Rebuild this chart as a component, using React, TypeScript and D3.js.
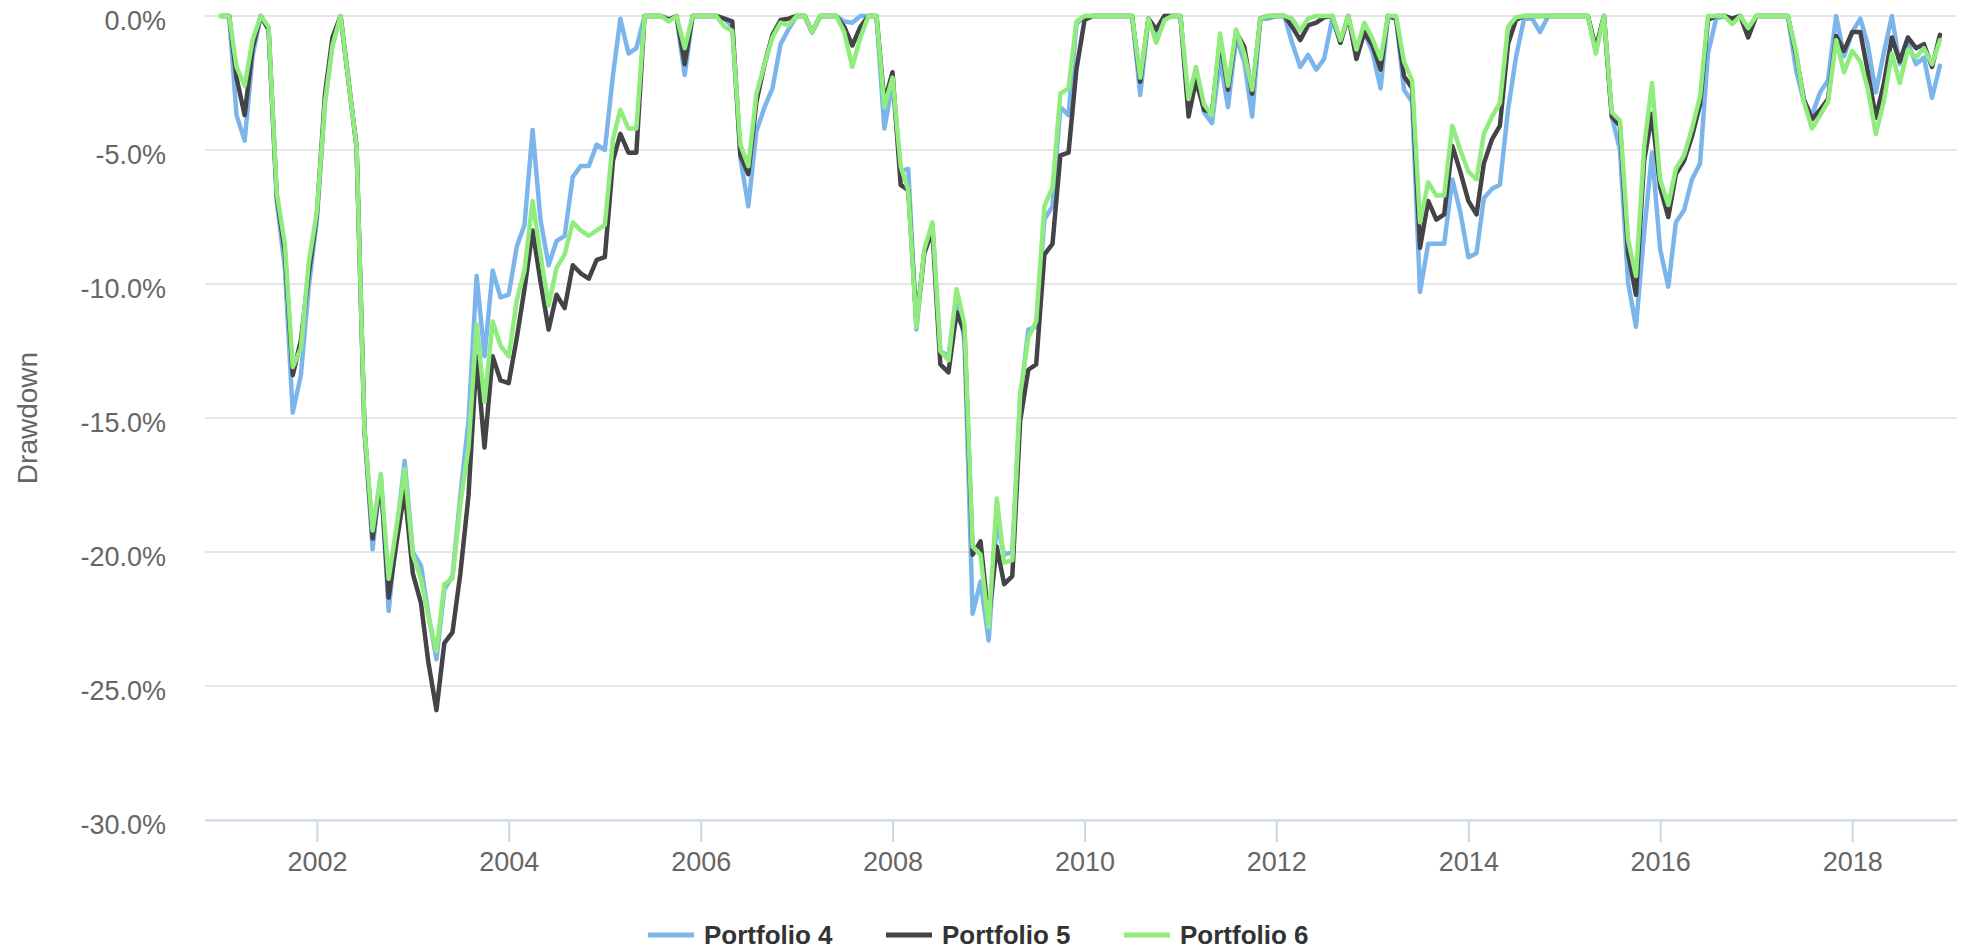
import React, { useRef, useEffect } from "react";
import * as d3 from "d3";

// monthly drawdowns (%) from Jan 2001 to Dec 2018, one row per year
const startYear = 2001;

const portfolio4 = [
  0, 0, -3.7, -4.65, -1.5, 0, -0.5, -6.9, -9.4, -14.8, -13.4, -10.1,
  -7.6, -3.2, -1.1, 0, -2.4, -4.9, -15.5, -19.9, -17.1, -22.2, -19.2, -16.6,
  -20.0, -20.5, -22.3, -24.0, -21.4, -20.9, -17.9, -15.1, -9.7, -12.7, -9.5, -10.5,
  -10.4, -8.6, -7.8, -4.25, -7.6, -9.3, -8.4, -8.2, -6.0, -5.6, -5.6, -4.8,
  -5.0, -2.2, -0.1, -1.4, -1.2, 0, 0, 0, -0.1, -0.05, -2.2, 0,
  0, 0, 0, -0.1, -0.4, -5.3, -7.1, -4.3, -3.4, -2.7, -1.05, -0.5,
  0, 0, -0.6, 0, 0, 0, -0.2, -0.25, 0, 0, 0, -4.2,
  -2.5, -5.8, -5.7, -11.7, -8.8, -7.8, -12.5, -12.7, -10.4, -12.1, -22.3, -21.1,
  -23.3, -18.9, -20.1, -20.0, -14.3, -11.7, -11.6, -7.6, -7.1, -3.4, -3.7, -0.3,
  0, 0, 0, 0, 0, 0, 0, -2.95, -0.1, -0.7, 0, 0,
  0, -3.4, -2.0, -3.6, -4.0, -1.6, -3.4, -0.8, -1.7, -3.75, -0.1, -0.1,
  0, 0, -1.0, -1.9, -1.45, -2.0, -1.6, -0.1, -1.0, 0, -1.6, -0.6,
  -1.35, -2.7, 0, -0.1, -2.75, -3.2, -10.3, -8.5, -8.5, -8.5, -6.1, -7.3,
  -9.0, -8.85, -6.8, -6.45, -6.3, -3.5, -1.55, -0.1, -0.1, -0.6, 0, 0,
  0, 0, 0, 0, -1.3, 0, -3.75, -5.0, -9.95, -11.6, -8.1, -5.1,
  -8.7, -10.1, -7.7, -7.25, -6.1, -5.5, -1.4, -0.1, 0, -0.1, 0, -0.5,
  0, 0, 0, 0, 0, -2.0, -3.2, -3.7, -2.85, -2.4, 0, -1.5,
  -0.6, -0.1, -1.05, -2.85, -1.4, 0, -1.8, -1.0, -1.8, -1.55, -3.05, -1.85,
];

const portfolio5 = [
  0, 0, -2.3, -3.7, -1.2, 0, -0.5, -6.7, -8.8, -13.4, -12.1, -9.6,
  -7.4, -2.9, -0.8, 0, -2.4, -4.9, -15.4, -19.5, -17.3, -21.7, -19.6, -17.7,
  -20.8, -21.9, -24.1, -25.9, -23.4, -23.0, -20.8, -17.9, -12.7, -16.1, -12.7, -13.6,
  -13.7, -12.0, -10.2, -8.0, -9.9, -11.7, -10.4, -10.9, -9.3, -9.6, -9.8, -9.1,
  -9.0, -5.4, -4.4, -5.1, -5.1, 0, 0, 0, -0.15, 0, -1.8, 0,
  0, 0, 0, -0.1, -0.2, -5.2, -5.9, -3.2, -1.8, -0.7, -0.15, -0.1,
  0, 0, -0.6, 0, 0, 0, -0.4, -1.1, -0.4, 0, 0, -3.2,
  -2.1, -6.3, -6.5, -11.4, -8.85, -8.0, -13.0, -13.3, -11.05, -11.8, -20.1, -19.6,
  -22.5, -19.8, -21.2, -20.9, -15.1, -13.2, -13.0, -8.9, -8.5, -5.2, -5.1, -2.0,
  -0.15, 0, 0, 0, 0, 0, 0, -2.45, -0.1, -0.5, 0, 0,
  0, -3.75, -2.4, -3.5, -3.6, -0.9, -2.75, -0.6, -1.15, -2.9, -0.1, 0,
  0, 0, -0.4, -0.9, -0.35, -0.25, -0.05, 0, -1.0, 0, -1.6, -0.6,
  -1.1, -2.0, 0, -0.1, -2.25, -2.7, -8.65, -6.9, -7.6, -7.4, -4.85, -5.8,
  -6.9, -7.4, -5.5, -4.6, -4.1, -1.05, -0.15, 0, 0, 0, 0, 0,
  0, 0, 0, 0, -1.2, 0, -3.75, -4.1, -8.85, -10.4, -5.4, -3.65,
  -6.4, -7.5, -5.9, -5.4, -4.5, -3.3, -0.15, 0, 0, -0.1, 0, -0.8,
  0, 0, 0, 0, 0, -1.4, -3.1, -3.85, -3.5, -3.1, -0.75, -1.3,
  -0.6, -0.6, -2.05, -3.8, -2.55, -0.8, -1.7, -0.8, -1.2, -1.05, -1.9, -0.7,
];

const portfolio6 = [
  0, 0, -1.9, -2.6, -0.9, 0, -0.4, -6.6, -8.5, -13.1, -12.4, -9.2,
  -7.3, -3.2, -1.1, 0, -2.4, -4.9, -15.4, -19.2, -17.1, -21.0, -19.0, -16.9,
  -20.1, -21.0, -22.4, -23.7, -21.2, -21.0, -18.2, -16.1, -11.5, -14.4, -11.4, -12.3,
  -12.7, -10.6, -9.5, -6.9, -8.9, -10.8, -9.4, -8.9, -7.7, -8.0, -8.2, -8.0,
  -7.8, -4.6, -3.5, -4.2, -4.2, 0, 0, 0, -0.2, 0, -1.2, 0,
  0, 0, 0, -0.4, -0.55, -4.8, -5.6, -2.9, -1.8, -0.8, -0.25, -0.35,
  0, 0, -0.6, 0, 0, 0, -0.6, -1.9, -0.8, 0, 0, -3.4,
  -2.3, -5.6, -6.5, -11.6, -8.7, -7.7, -12.5, -12.85, -10.2, -11.5, -19.8, -20.1,
  -22.8, -18.0, -20.4, -20.3, -14.1, -12.0, -11.4, -7.1, -6.4, -2.9, -2.7, -0.2,
  0, 0, 0, 0, 0, 0, 0, -2.3, -0.1, -1.0, -0.15, 0,
  0, -3.1, -1.9, -3.3, -3.7, -0.65, -2.6, -0.5, -1.4, -2.75, -0.1, 0,
  0, 0, -0.1, -0.55, -0.1, 0, 0, 0, -0.9, 0, -1.25, -0.25,
  -0.85, -1.6, 0, 0, -1.7, -2.4, -7.7, -6.2, -6.7, -6.7, -4.1, -5.0,
  -5.8, -6.1, -4.4, -3.75, -3.25, -0.4, -0.05, 0, 0, 0, 0, 0,
  0, 0, 0, 0, -1.4, 0, -3.6, -3.9, -8.35, -9.7, -4.9, -2.5,
  -6.1, -7.05, -5.7, -5.2, -4.2, -3.0, 0, 0, 0, -0.3, 0, -0.45,
  0, 0, 0, 0, 0, -1.3, -3.2, -4.2, -3.7, -3.2, -0.9, -2.1,
  -1.3, -1.7, -2.7, -4.4, -3.2, -1.4, -2.5, -1.25, -1.55, -1.2, -1.8, -0.9,
];

const seriesNames = ["Portfolio 4", "Portfolio 5", "Portfolio 6"];
const seriesValues = [portfolio4, portfolio5, portfolio6];
const seriesColors = ["#7cb5ec", "#434348", "#90ed7d"];

const yTicks = [0, -5, -10, -15, -20, -25, -30];
const xTickYears = [2002, 2004, 2006, 2008, 2010, 2012, 2014, 2016, 2018];

const months = portfolio4.map((_, i) => new Date(Date.UTC(startYear, i, 1)));

const FONT = "'Liberation Sans', Arial, Helvetica, sans-serif";

const DrawdownChart: React.FC = () => {
  const svgRef = useRef<SVGSVGElement>(null);

  useEffect(() => {
    const svg = d3.select(svgRef.current);
    svg.selectAll("*").remove();
    const width = 1963;
    const height = 952;
    const margin = { top: 16, right: 6, bottom: 132, left: 205 };

    const x = d3
      .scaleUtc()
      .domain([new Date(Date.UTC(2000, 10, 1)), new Date(Date.UTC(2019, 1, 4))])
      .range([margin.left, width - margin.right]);

    const y = d3
      .scaleLinear()
      .domain([-30, 0])
      .range([height - margin.bottom, margin.top]);

    // grid
    svg
      .append("g")
      .selectAll("line")
      .data(yTicks)
      .enter()
      .append("line")
      .attr("x1", margin.left)
      .attr("x2", width - margin.right)
      .attr("y1", (d) => y(d))
      .attr("y2", (d) => y(d))
      .attr("stroke", "#e6e6e6")
      .attr("stroke-width", 2);

    // y axis labels
    const yAxis = svg
      .append("g")
      .attr("transform", `translate(166,0)`)
      .call(
        d3
          .axisLeft(y)
          .tickValues(yTicks)
          .tickSize(0)
          .tickPadding(0)
          .tickFormat((d) => `${(+d).toFixed(1)}%`)
      );
    yAxis.select(".domain").remove();
    yAxis
      .selectAll("text")
      .attr("dy", "0.5em")
      .attr("fill", "#666666")
      .style("font-family", FONT)
      .style("font-size", "27px");

    // x axis
    const xAxis = svg
      .append("g")
      .attr("transform", `translate(0,${height - margin.bottom})`)
      .call(
        d3
          .axisBottom(x)
          .tickValues(xTickYears.map((yr) => new Date(Date.UTC(yr, 0, 1))))
          .tickSize(22)
          .tickSizeOuter(0)
          .tickPadding(10)
          .tickFormat((d) => d3.utcFormat("%Y")(d as Date))
      );
    xAxis.select(".domain").attr("stroke", "#ccd6eb").attr("stroke-width", 2);
    xAxis.selectAll(".tick line").attr("stroke", "#ccd6eb").attr("stroke-width", 2);
    xAxis
      .selectAll("text")
      .attr("fill", "#666666")
      .style("font-family", FONT)
      .style("font-size", "27px");

    // y title
    svg
      .append("text")
      .attr("transform", `translate(37,${(margin.top + height - margin.bottom) / 2}) rotate(-90)`)
      .attr("text-anchor", "middle")
      .attr("fill", "#666666")
      .style("font-family", FONT)
      .style("font-size", "28px")
      .text("Drawdown");

    // series
    const line = d3
      .line<number>()
      .x((_, i) => x(months[i]))
      .y((d) => y(d));

    seriesValues.forEach((vals, i) => {
      svg
        .append("path")
        .datum(vals)
        .attr("d", line)
        .attr("fill", "none")
        .attr("stroke", seriesColors[i])
        .attr("stroke-width", 4.5)
        .attr("stroke-linejoin", "round")
        .attr("stroke-linecap", "round");
    });

    // legend
    const legend = svg.append("g").attr("transform", `translate(648,935)`);
    seriesNames.forEach((name, i) => {
      const item = legend.append("g").attr("transform", `translate(${i * 238},0)`);
      item
        .append("line")
        .attr("x1", 0)
        .attr("x2", 46)
        .attr("y1", 0)
        .attr("y2", 0)
        .attr("stroke", seriesColors[i])
        .attr("stroke-width", 5);
      item
        .append("text")
        .attr("x", 56)
        .attr("y", 9)
        .attr("fill", "#333333")
        .style("font-family", FONT)
        .style("font-size", "26px")
        .style("font-weight", "bold")
        .text(name);
    });
  }, []);

  return (
    <svg
      ref={svgRef}
      width={1963}
      height={952}
      style={{ position: "absolute", left: 0, top: 0, background: "#ffffff" }}
    ></svg>
  );
};

export default function App() {
  return <DrawdownChart />;
}
